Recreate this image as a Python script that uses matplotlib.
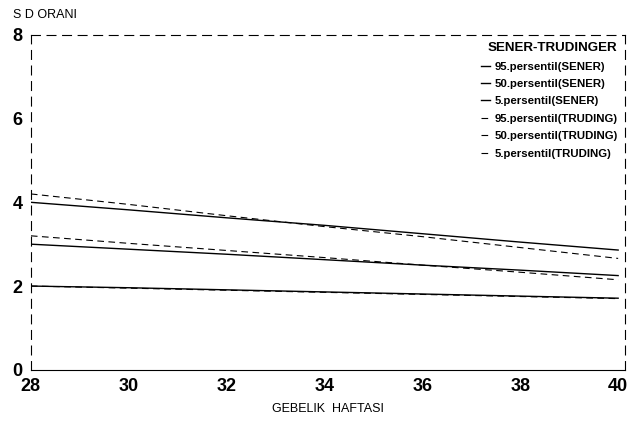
import matplotlib
matplotlib.use("Agg")
import matplotlib.pyplot as plt

plt.rcParams['font.family'] = ['Liberation Sans', 'DejaVu Sans']

hafta = [28, 30, 32, 34, 36, 38, 40]

sener_95 = [4.00, 3.82, 3.63, 3.45, 3.25, 3.05, 2.86]
sener_50 = [3.00, 2.88, 2.76, 2.63, 2.50, 2.38, 2.25]
sener_5 = [2.00, 1.96, 1.91, 1.86, 1.81, 1.76, 1.71]
trud_95 = [4.20, 3.95, 3.68, 3.42, 3.18, 2.92, 2.66]
trud_50 = [3.20, 3.02, 2.85, 2.68, 2.50, 2.33, 2.15]
trud_5 = [2.00, 1.95, 1.90, 1.85, 1.80, 1.75, 1.70]

etiketler = ['95.persentil(SENER)', '50.persentil(SENER)', '5.persentil(SENER)',
             '95.persentil(TRUDING)', '50.persentil(TRUDING)', '5.persentil(TRUDING)']

fig = plt.figure(figsize=(6.43, 4.30), dpi=100)
ax = fig.add_axes([0.048, 0.140, 0.924, 0.779])

ax.plot(hafta, sener_95, color='black', lw=1.0, label=etiketler[0])
ax.plot(hafta, sener_50, color='black', lw=1.0, label=etiketler[1])
ax.plot(hafta, sener_5, color='black', lw=1.0, label=etiketler[2])
ax.plot(hafta, trud_95, color='black', lw=0.8, ls=(0, (6, 4)), label=etiketler[3])
ax.plot(hafta, trud_50, color='black', lw=0.8, ls=(0, (6, 4)), label=etiketler[4])
ax.plot(hafta, trud_5, color='black', lw=0.8, ls=(0, (6, 4)), label=etiketler[5])

ax.set_xlim(28, 40.14)
ax.set_ylim(0, 8)
ax.set_xticks(hafta)
ax.set_yticks([0, 2, 4, 6, 8])
ax.tick_params(length=0, labelsize=13, pad=6)
for lab in ax.get_xticklabels() + ax.get_yticklabels():
    lab.set_fontweight('bold')

for s in ['top', 'right', 'left']:
    ax.spines[s].set_linestyle((0, (8, 6)))
    ax.spines[s].set_linewidth(0.8)
ax.spines['bottom'].set_linewidth(0.8)

fig.text(0.02, 0.965, 'S D ORANI', fontsize=9, ha='left', va='center')
fig.text(0.51, 0.05, 'GEBELIK  HAFTASI', fontsize=9, ha='center', va='center')

leg = ax.legend(title='SENER-TRUDINGER', loc='upper right', frameon=False,
                fontsize=8.2, handlelength=0.8, handletextpad=0.4,
                labelspacing=0.65, borderaxespad=0.25)
leg.get_title().set_fontweight('bold')
leg.get_title().set_fontsize(9.6)
leg._legend_box.align = 'right'
for t in leg.get_texts():
    t.set_fontweight('bold')

fig.savefig('out.png', dpi=100)
